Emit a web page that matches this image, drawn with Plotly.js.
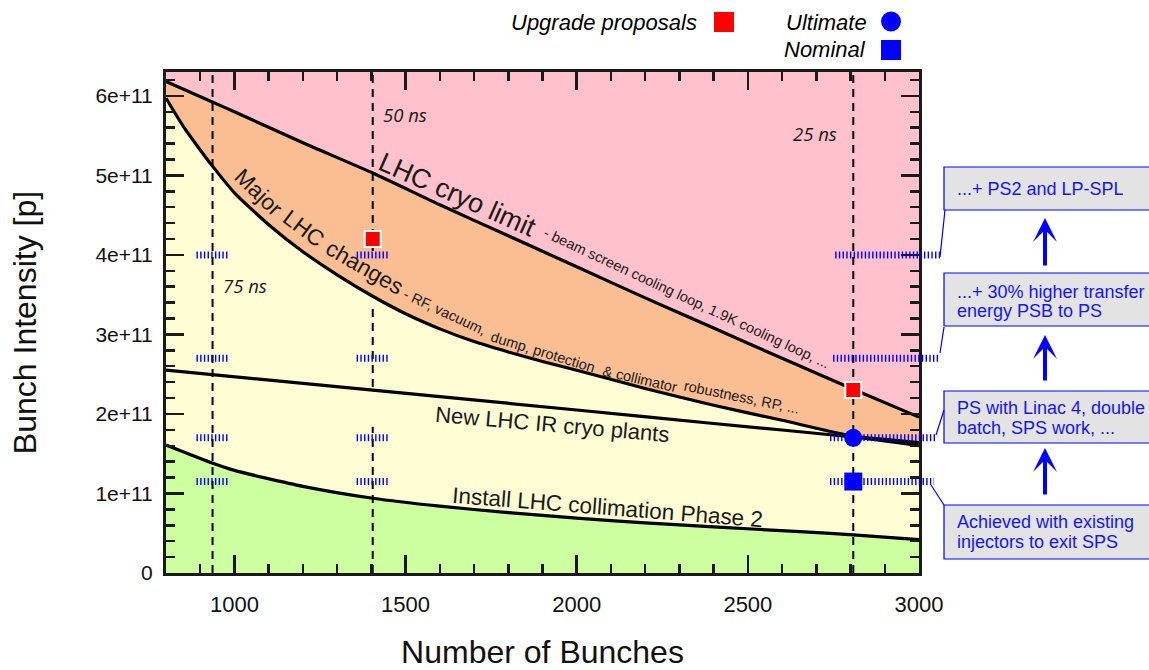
<!DOCTYPE html>
<html>
<head>
<meta charset="utf-8">
<script src="https://cdn.plot.ly/plotly-3.0.1.min.js"></script>
<style>
html,body{margin:0;padding:0;background:#fff;}
#chart{width:1149px;height:670px;}
</style>
</head>
<body>
<div id="chart"></div>
<script>
// ---------------- data ----------------
const cryoX  = [800, 937, 1000, 1200, 1404, 1600, 1800, 2000, 2200, 2400, 2600, 2808, 3000];
const cryoY  = [6.18e11, 5.92e11, 5.80e11, 5.41e11, 5.03e11, 4.63e11, 4.24e11, 3.85e11, 3.46e11, 3.08e11, 2.70e11, 2.31e11, 1.96e11];

const majorX = [800, 850, 900, 937, 1000, 1100, 1200, 1300, 1404, 1500, 1600, 1700, 1800, 1900, 2000, 2200, 2400, 2600, 2808, 2900, 3000];
const majorY = [5.97e11, 5.62e11, 5.32e11, 5.11e11, 4.78e11, 4.38e11, 4.04e11, 3.75e11, 3.48e11, 3.26e11, 3.07e11, 2.91e11, 2.78e11, 2.66e11, 2.55e11, 2.32e11, 2.11e11, 1.92e11, 1.72e11, 1.68e11, 1.64e11];

const irX    = [800, 1404, 2000, 2400, 2808, 3000];
const irY    = [2.55e11, 2.30e11, 2.05e11, 1.88e11, 1.71e11, 1.60e11];

const collX  = [800, 937, 1000, 1200, 1404, 1600, 1800, 2000, 2200, 2400, 2652, 2808, 3000];
const collY  = [1.61e11, 1.38e11, 1.29e11, 1.09e11, 0.94e11, 0.84e11, 0.76e11, 0.69e11, 0.63e11, 0.58e11, 0.52e11, 0.48e11, 0.42e11];

const spacingX      = [936, 1404, 2808];
const spacingLabels = ['75 ns', '50 ns', '25 ns'];
const spacingLabelY = [3.62e11, 5.76e11, 5.53e11];

const levels   = [1.15e11, 1.7e11, 2.7e11, 4.0e11];

const upgradeX  = [1404, 2808];
const upgradeY  = [4.2e11, 2.3e11];
const ultimateX = [2808];
const ultimateY = [1.7e11];
const nominalX  = [2808];
const nominalY  = [1.15e11];

const xTickVals = [1000, 1500, 2000, 2500, 3000];
const yTickVals = [0, 1e11, 2e11, 3e11, 4e11, 5e11, 6e11];
const yTickText = ['0', '1e+11', '2e+11', '3e+11', '4e+11', '5e+11', '6e+11'];

const stepTexts = [
  ['...+ PS2 and LP-SPL'],
  ['...+ 30% higher transfer', 'energy PSB to PS'],
  ['PS with Linac 4, double', 'batch, SPS work, ...'],
  ['Achieved with existing', 'injectors to exit SPS']
];

// ---------------- layout / style ----------------
const W = 1149, H = 670;
const M = {l: 166, r: 2, t: 72, b: 97};
const plotW = W - M.l - M.r, plotH = H - M.t - M.b;
const mainW = 753;                  // pixel width of the main frame
const dom = mainW / plotW;
const xMin = 800, xMax = 3000, yMax = 6.3e11;
const x2Max = xMin + (xMax - xMin) / dom;

const px = v => (v - M.l) / plotW;   // pixel -> paper
const py = v => (H - M.b - v) / plotH;

const FONT = 'Liberation Sans, Arial, Helvetica, sans-serif';
const BLUE = '#0000ff';
const TXTBLUE = '#1414ff';
const INK = '#1a1a1a';
const C_PINK = '#ffc1cb', C_ORANGE = '#fbbe93', C_YELLOW = '#fffdd3', C_GREEN = '#cdfe9f';

const traces = [];
function fillTrace(x, y, color) {
  return {x: x, y: y, type: 'scatter', mode: 'lines', fill: 'tozeroy', fillcolor: color,
          line: {width: 0, shape: 'spline', smoothing: 0.6}, hoverinfo: 'skip', xaxis: 'x', yaxis: 'y'};
}
function lineTrace(x, y) {
  return {x: x, y: y, type: 'scatter', mode: 'lines',
          line: {width: 3.2, color: '#000', shape: 'spline', smoothing: 0.6}, hoverinfo: 'skip', xaxis: 'x', yaxis: 'y'};
}
traces.push(fillTrace(cryoX, cryoY, C_ORANGE));
traces.push(fillTrace(majorX, majorY, C_YELLOW));
traces.push(fillTrace(collX, collY, C_GREEN));
traces.push(lineTrace(cryoX, cryoY));
traces.push(lineTrace(majorX, majorY));
traces.push(lineTrace(irX, irY));
traces.push(lineTrace(collX, collY));

// dashed bunch-spacing lines (the 50 ns one is interrupted in the reference)
const dashGaps = {1404: [[1.84e11, 2.34e11], [3.33e11, 4.05e11]]};
(function () {
  const dx = [], dy = [];
  spacingX.forEach(v => {
    const gaps = dashGaps[v] || [];
    let start = 0;
    gaps.forEach(g => { dx.push(v, v, null); dy.push(start, g[0], null); start = g[1]; });
    dx.push(v, v, null); dy.push(start, yMax, null);
  });
  traces.push({x: dx, y: dy, type: 'scatter', mode: 'lines', connectgaps: false,
               line: {width: 2, color: '#000', dash: '8px,6px'}, hoverinfo: 'skip', xaxis: 'x', yaxis: 'y'});
})();

// blue hatched level markers (drawn on a full-width twin axis so they can run out to the boxes)
const segHalf = 47;
const rightStart = [2740, 2740, 2749, 2755];
const rightEnd   = [3044, 3050, 3061, 3061];
(function () {
  const sx = [], sy = [];
  levels.forEach((lv, i) => {
    spacingX.slice(0, 2).forEach(c => { sx.push(c - segHalf, c + segHalf, null); sy.push(lv, lv, null); });
    sx.push(rightStart[i], rightEnd[i], null); sy.push(lv, lv, null);
  });
  traces.push({x: sx, y: sy, type: 'scatter', mode: 'lines', connectgaps: false,
               line: {width: 7, color: BLUE, dash: '1.4px,2.3px'}, hoverinfo: 'skip', xaxis: 'x2', yaxis: 'y'});
})();

traces.push({x: upgradeX, y: upgradeY, type: 'scatter', mode: 'markers', xaxis: 'x2', yaxis: 'y',
             marker: {symbol: 'square', size: 16, color: '#ff0000', line: {color: '#ffffff', width: 2}}, hoverinfo: 'skip'});
traces.push({x: ultimateX, y: ultimateY, type: 'scatter', mode: 'markers', xaxis: 'x2', yaxis: 'y',
             marker: {symbol: 'circle', size: 18, color: BLUE, line: {width: 0}}, hoverinfo: 'skip'});
traces.push({x: nominalX, y: nominalY, type: 'scatter', mode: 'markers', xaxis: 'x2', yaxis: 'y',
             marker: {symbol: 'square', size: 18, color: BLUE, line: {width: 0}}, hoverinfo: 'skip'});

// ---------------- shapes ----------------
const shapes = [];
shapes.push({type: 'rect', xref: 'x', yref: 'paper', x0: xMin, x1: xMax, y0: 0, y1: 1,
             fillcolor: C_PINK, line: {width: 0}, layer: 'below'});

const boxes = [[167, 210], [273, 326], [391, 443], [505, 559]];
boxes.forEach(b => shapes.push({type: 'rect', xref: 'paper', yref: 'paper',
  x0: px(944), x1: px(1155), y0: py(b[1]), y1: py(b[0]),
  fillcolor: '#e3e3e3', line: {color: BLUE, width: 1.2}, layer: 'above'}));

const connectors = [[940, 257, 945, 210], [940, 353, 944, 327], [936, 435, 944, 410], [931, 485, 944, 505]];
connectors.forEach(c => shapes.push({type: 'line', xref: 'paper', yref: 'paper',
  x0: px(c[0]), y0: py(c[1]), x1: px(c[2]), y1: py(c[3]), line: {color: BLUE, width: 1.2}}));

// legend symbols
shapes.push({type: 'rect', xref: 'paper', yref: 'paper', x0: px(714), x1: px(734), y0: py(32), y1: py(12),
             fillcolor: '#ff0000', line: {width: 0}});
shapes.push({type: 'circle', xref: 'paper', yref: 'paper', x0: px(881), x1: px(901), y0: py(31.5), y1: py(11.5),
             fillcolor: BLUE, line: {width: 0}});
shapes.push({type: 'rect', xref: 'paper', yref: 'paper', x0: px(881), x1: px(901), y0: py(60), y1: py(40),
             fillcolor: BLUE, line: {width: 0}});

// ---------------- annotations ----------------
const ann = [];
function curveLabel(text, x, y, angle, size) {
  ann.push({text: text, x: x, y: y, xref: 'x', yref: 'y', showarrow: false, textangle: angle,
            xanchor: 'center', yanchor: 'middle', font: {family: FONT, size: size, color: INK}});
}
curveLabel('LHC cryo limit', 1652, 4.75e11, 24, 27);
curveLabel('- beam screen cooling loop, 1.9K cooling loop, ...', 2322, 3.46e11, 25, 14.5);
curveLabel('Major', 1070, 4.78e11, 44, 22.5);
curveLabel('LHC', 1202, 4.33e11, 37, 22.5);
curveLabel('changes', 1380, 3.84e11, 30, 22.5);
curveLabel('- RF, vacuum,', 1614, 3.28e11, 25, 14.5);
curveLabel('dump, protection', 1901, 2.78e11, 17, 14.5);
curveLabel('&amp; collimator', 2184, 2.44e11, 13, 14.5);
curveLabel('robustness, RP, ...', 2480, 2.21e11, 11.5, 14.5);
curveLabel('New LHC IR cryo plants', 1930, 1.87e11, 5, 22);
curveLabel('Install LHC collimation Phase 2', 2091, 0.83e11, 4.5, 22.5);

spacingX.forEach((v, i) => {
  const xOff = [95, 94, -113][i];
  ann.push({text: '<i>' + spacingLabels[i] + '</i>', x: v + xOff, y: spacingLabelY[i], xref: 'x', yref: 'y',
            showarrow: false, xanchor: 'center', yanchor: 'middle',
            font: {family: 'Open Sans, sans-serif', size: 18.5, color: INK}});
});

// legend texts
ann.push({text: '<i>Upgrade proposals</i>', xref: 'paper', yref: 'paper', x: px(699), y: py(22),
          xanchor: 'right', yanchor: 'middle', showarrow: false, font: {family: FONT, size: 22, color: '#000'}});
ann.push({text: '<i>Ultimate</i>', xref: 'paper', yref: 'paper', x: px(869), y: py(22),
          xanchor: 'right', yanchor: 'middle', showarrow: false, font: {family: FONT, size: 22, color: '#000'}});
ann.push({text: '<i>Nominal</i>', xref: 'paper', yref: 'paper', x: px(868), y: py(50),
          xanchor: 'right', yanchor: 'middle', showarrow: false, font: {family: FONT, size: 22, color: '#000'}});

// box texts
const lineYs = [[189], [292, 311], [408, 428], [522, 542]];
stepTexts.forEach((lines, i) => {
  lines.forEach((t, j) => {
    ann.push({text: t, xref: 'paper', yref: 'paper', x: px(955), y: py(lineYs[i][j]),
              xanchor: 'left', yanchor: 'middle', showarrow: false,
              font: {family: FONT, size: 18, color: TXTBLUE}});
  });
});

// arrows between the boxes
const arrows = [[218, 267], [335, 382], [448, 496]];
arrows.forEach(a => ann.push({text: '', xref: 'paper', yref: 'paper', x: px(1045), y: py(a[0]),
  ax: 0, ay: a[1] - a[0], showarrow: true, arrowhead: 3, arrowsize: 1, arrowwidth: 4, arrowcolor: BLUE}));

const axisCommon = {
  ticks: 'inside', tickcolor: '#1a1a1a', tickwidth: 2.5, showline: true, linecolor: '#1a1a1a', linewidth: 3,
  mirror: 'ticks', showgrid: false, zeroline: false,
  tickfont: {family: FONT, size: 22, color: '#111'}
};

const layout = {
  width: W, height: H, margin: M,
  paper_bgcolor: '#ffffff', plot_bgcolor: 'rgba(0,0,0,0)',
  showlegend: false, hovermode: false,
  font: {family: FONT, color: '#111'},
  xaxis: Object.assign({}, axisCommon, {
    domain: [0, dom], range: [xMin, xMax], anchor: 'y',
    tickmode: 'array', tickvals: xTickVals, ticklen: 18, ticklabelstandoff: 10,
    minor: {tickmode: 'linear', tick0: 0, dtick: 100, ticks: 'inside', ticklen: 9, tickwidth: 2.5, tickcolor: '#1a1a1a'},
    title: {text: 'Number of Bunches', font: {family: FONT, size: 32, color: '#111'}, standoff: 36}
  }),
  xaxis2: {domain: [0, 1], range: [xMin, x2Max], anchor: 'y', visible: false, showgrid: false, zeroline: false},
  yaxis: Object.assign({}, axisCommon, {
    range: [0, yMax], anchor: 'x',
    tickmode: 'array', tickvals: yTickVals, ticktext: yTickText, ticklen: 18, ticklabelstandoff: 6,
    tickfont: {family: FONT, size: 21, color: '#111'},
    minor: {tickmode: 'linear', tick0: 0, dtick: 2e10, ticks: 'inside', ticklen: 9, tickwidth: 2.5, tickcolor: '#1a1a1a'},
    title: {text: 'Bunch Intensity [p]', font: {family: FONT, size: 32, color: '#111'}, standoff: 50}
  }),
  shapes: shapes,
  annotations: ann
};

Plotly.newPlot('chart', traces, layout, {displayModeBar: false, staticPlot: true});
</script>
</body>
</html>
